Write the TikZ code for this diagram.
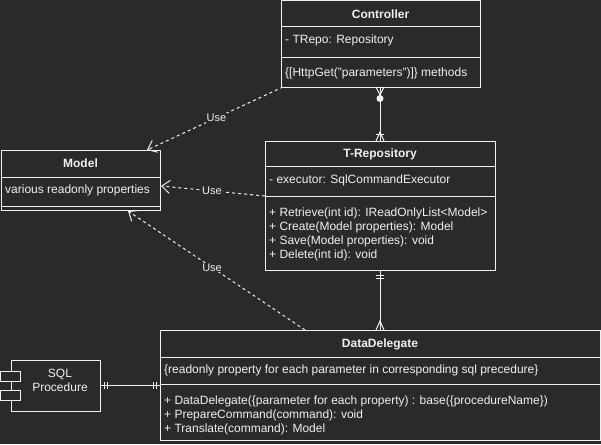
\documentclass[tikz,border=0pt]{standalone}
\usepackage{fontspec}
\setmainfont{Liberation Sans}
\usetikzlibrary{arrows.meta,calc}
\definecolor{bg}{HTML}{2A2A2A}
\definecolor{fg}{HTML}{F0F0F0}
\begin{document}
\begin{tikzpicture}[x=1pt,y=-1pt,
  box/.style={draw=fg, fill=bg, line width=1pt, inner sep=0pt, outer sep=0pt, anchor=north west},
  txt/.style={text=fg, font=\fontsize{12}{14}\selectfont, inner sep=0pt, anchor=west},
  ttl/.style={text=fg, font=\fontsize{12}{14}\selectfont\bfseries, inner sep=0pt},
  rel/.style={draw=fg, line width=1pt},
  use/.style={draw=fg, line width=1pt, dash pattern=on 3pt off 3pt, -{Straight Barb[length=8pt,width=13pt,line width=1pt]}},
  uselabel/.style={fill=bg, text=fg, font=\fontsize{11}{13}\selectfont, inner sep=1pt}
]
\useasboundingbox[fill=bg] (0,0) rectangle (601,444);

% Controller
\node[box, minimum width=199pt, minimum height=86pt] (ctrl) at (281,1) {};
\draw[rel] ($(ctrl.north west)+(0,26)$) -- ($(ctrl.north east)+(0,26)$);
\draw[rel] ($(ctrl.north west)+(0,56)$) -- ($(ctrl.north east)+(0,56)$);
\node[ttl] (ctrlT) at (380.5,14) {Controller};
\node[txt] (ctrlA) at (285,40) {- TRepo: Repository};
\node[txt] (ctrlM) at (285,73) {\{[HttpGet("parameters")]\} methods};

% Model
\node[box, minimum width=159pt, minimum height=60pt] (model) at (1,150) {};
\draw[rel] ($(model.north west)+(0,27)$) -- ($(model.north east)+(0,27)$);
\draw[rel] ($(model.north west)+(0,56)$) -- ($(model.north east)+(0,56)$);
\node[ttl] (modelT) at (80.5,163.5) {Model};
\node[txt] (modelA) at (5,190) {various readonly properties};

% T-Repository
\node[box, minimum width=230pt, minimum height=129pt] (trepo) at (265,141) {};
\draw[rel] ($(trepo.north west)+(0,25)$) -- ($(trepo.north east)+(0,25)$);
\draw[rel] ($(trepo.north west)+(0,55)$) -- ($(trepo.north east)+(0,55)$);
\node[ttl] (trepoT) at (380,154) {T-Repository};
\node[txt] (trepoA) at (269,180) {- executor: SqlCommandExecutor};
\node[txt] (trepoM1) at (269,213) {+ Retrieve(int id): IReadOnlyList<Model>};
\node[txt] (trepoM2) at (269,227) {+ Create(Model properties): Model};
\node[txt] (trepoM3) at (269,241) {+ Save(Model properties): void};
\node[txt] (trepoM4) at (269,255) {+ Delete(int id): void};

% DataDelegate
\node[box, minimum width=440pt, minimum height=110pt] (dd) at (160,330) {};
\draw[rel] ($(dd.north west)+(0,27)$) -- ($(dd.north east)+(0,27)$);
\draw[rel] ($(dd.north west)+(0,54)$) -- ($(dd.north east)+(0,54)$);
\node[ttl] (ddT) at (380,344) {DataDelegate};
\node[txt] (ddA) at (164,370) {\{readonly property for each parameter in corresponding sql precedure\}};
\node[txt] (ddM1) at (164,401) {+ DataDelegate(\{parameter for each property) : base(\{procedureName\})};
\node[txt] (ddM2) at (164,415) {+ PrepareCommand(command): void};
\node[txt] (ddM3) at (164,429) {+ Translate(command): Model};

% SQL Procedure component
\node[box, minimum width=89pt, minimum height=51pt] (sql) at (11,360) {};
\node[box, minimum width=20pt, minimum height=10pt] (sqlp1) at (0.5,371) {};
\node[box, minimum width=20pt, minimum height=10pt] (sqlp2) at (0.5,390) {};
\node[text=fg, font=\fontsize{12}{14}\selectfont, align=center, inner sep=0pt] (sqlT) at (60,380) {SQL\\Procedure};

% Controller -- T-Repository
\draw[rel] (trepo.north |- ctrl.south) -- (trepo.north);
\begin{scope}[shift={(trepo.north |- ctrl.south)}]
  \draw[rel] (-4,0) -- (0,8) -- (4,0);
  \fill[fg] (0,11.5) circle[radius=3.5pt];
\end{scope}
\begin{scope}[shift={(trepo.north)}]
  \draw[rel] (-4,0) -- (0,-9) -- (4,0);
  \draw[rel] (-4,-7) -- (4,-7);
\end{scope}

% T-Repository -- DataDelegate
\draw[rel] (trepo.south) -- (trepo.south |- dd.north);
\begin{scope}[shift={(trepo.south)}]
  \draw[rel] (-4,5) -- (4,5);
  \draw[rel] (-4,8) -- (4,8);
\end{scope}
\begin{scope}[shift={(trepo.south |- dd.north)}]
  \draw[rel] (-4,0) -- (0,-9) -- (4,0);
\end{scope}

% SQL Procedure -- DataDelegate
\draw[rel] (sql.east) -- (sql.east -| dd.west);
\begin{scope}[shift={(sql.east)}]
  \draw[rel] (4,-3.5) -- (4,3.5);
  \draw[rel] (7,-3.5) -- (7,3.5);
\end{scope}
\begin{scope}[shift={(sql.east -| dd.west)}]
  \draw[rel] (-4,-3.5) -- (-4,3.5);
  \draw[rel] (-7,-3.5) -- (-7,3.5);
\end{scope}

% Use dependencies
\draw[use] ($(ctrl.south west)+(2,0)$) -- node[uselabel, pos=0.49] {Use} ($(model.north east)+(-13,0)$);
\draw[use] ($(trepo.north west)+(0,55)$) -- node[uselabel, pos=0.51] {Use} ($(model.east)+(1,6)$);
\draw[use] ($(dd.north west)+(145,0)$) -- node[uselabel, pos=0.525] {Use} ($(model.south west)+(127,1)$);
\end{tikzpicture}
\end{document}
